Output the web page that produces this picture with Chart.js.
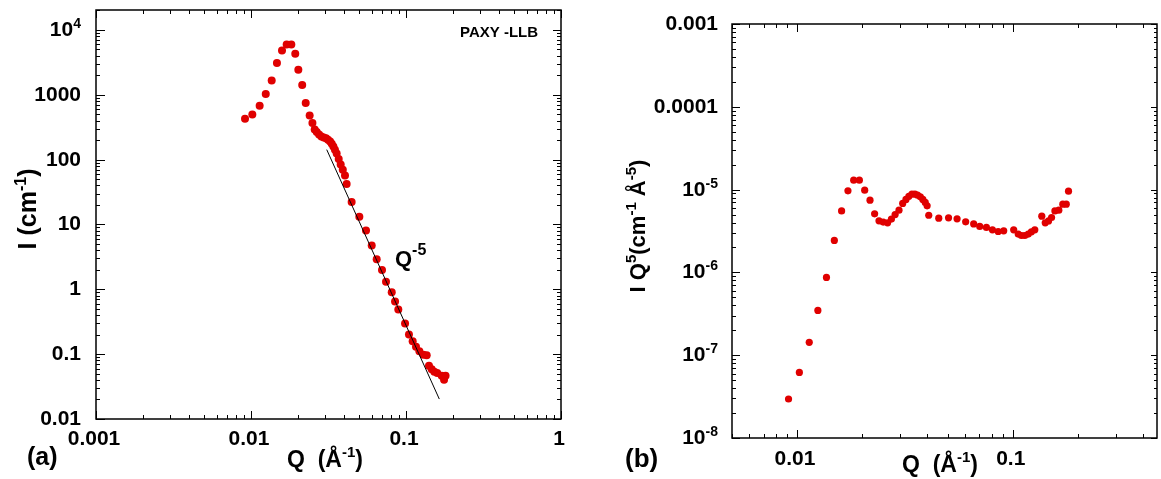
<!DOCTYPE html>
<html><head><meta charset="utf-8">
<script src="https://cdn.jsdelivr.net/npm/chart.js@4/dist/chart.umd.min.js"></script>
<style>
html,body{margin:0;padding:0;background:#fff;overflow:hidden}
#wrap{position:relative;width:1161px;height:479px}
canvas{position:absolute;top:0}
#ca{left:0}
#cb{left:580px}
</style></head><body>
<div id="wrap"><canvas id="ca" width="580" height="479"></canvas><canvas id="cb" width="581" height="479"></canvas></div>
<script>
// ---- Panel (a): I(Q) ----
const qA = [0.00915,0.0102,0.01137,0.01245,0.0136,0.0147,0.01585,0.01699,0.0182,0.0193,0.0202,0.0214,0.02254,0.0239,0.0249,0.02576,0.02655,0.02748,0.02844,0.02945,0.0305,0.0314,0.0324,0.0332,0.034,0.0348,0.0357,0.0368,0.0379,0.0391,0.0404,0.0414,0.0446,0.05,0.0552,0.0601,0.0647,0.070,0.0743,0.0809,0.085,0.0892,0.0986,0.1045,0.1104,0.116,0.122,0.1295,0.136,0.1407,0.1465,0.1523,0.159,0.170,0.176,0.180];
const iA = [428,498,678,1026,1660,3105,4810,5940,5940,4310,2425,1410,745,481,366,292,267,245,228,220,213,203,191,176,160,142,124,102,84,70,57,42,22.3,13.1,8.1,4.75,2.9,1.98,1.31,0.9,0.647,0.488,0.297,0.201,0.158,0.13,0.111,0.0977,0.0966,0.066,0.0587,0.0535,0.051,0.0464,0.0403,0.0464];
// Q^-5 guide line end points
const fitQ = [0.0308, 0.164];
const fitI = [142.6, 0.0203];
// tick labels (a)
const aXTickValues = [0.001, 0.01, 0.1, 1];
const aXTickLabels = [['0.001'], ['0.01'], ['0.1'], ['1']];
const aYTickValues = [0.01, 0.1, 1, 10, 100, 1000, 10000];
const aYTickLabels = [['0.01'], ['0.1'], ['1'], ['10'], ['100'], ['1000'], ['10', '4']];

// ---- Panel (b): I*Q^5 ----
const qB = [0.00914,0.01026,0.0114,0.0125,0.0137,0.0149,0.0161,0.01723,0.01832,0.01946,0.0206,0.0218,0.0229,0.024,0.0251,0.0263,0.0274,0.0285,0.0297,0.0309,0.032,0.033,0.0341,0.0352,0.0362,0.0373,0.0383,0.0393,0.0401,0.0408,0.0454,0.0504,0.0552,0.0605,0.0659,0.0703,0.0755,0.0805,0.0856,0.0908,0.101,0.106,0.1097,0.1137,0.118,0.122,0.1265,0.1363,0.1414,0.1465,0.1513,0.1568,0.1635,0.1706,0.177,0.1813];
const iq5B = [2.96e-8,6.2e-8,1.43e-7,3.47e-7,8.7e-7,2.43e-6,5.53e-6,9.66e-6,1.3e-5,1.3e-5,9.84e-6,7.45e-6,5.1e-6,4.2e-6,4.05e-6,3.97e-6,4.4e-6,5.0e-6,5.65e-6,6.8e-6,7.6e-6,8.3e-6,8.8e-6,8.8e-6,8.57e-6,8.17e-6,7.6e-6,7.0e-6,6.37e-6,4.9e-6,4.52e-6,4.56e-6,4.44e-6,4.08e-6,3.85e-6,3.59e-6,3.49e-6,3.27e-6,3.12e-6,3.18e-6,3.27e-6,2.9e-6,2.79e-6,2.79e-6,2.9e-6,3.09e-6,3.27e-6,4.78e-6,3.97e-6,4.19e-6,4.6e-6,5.53e-6,5.65e-6,6.67e-6,6.67e-6,9.57e-6];
const bXTickValues = [0.01, 0.1];
const bXTickLabels = [['0.01'], ['0.1']];
const bYTickValues = [0.001, 0.0001, 1e-5, 1e-6, 1e-7, 1e-8];
const bYTickLabels = [['0.001'], ['0.0001'], ['10', '-5'], ['10', '-6'], ['10', '-7'], ['10', '-8']];

const RED = '#e00000';
const FONT = '"Liberation Sans", Arial, Helvetica, sans-serif';

// rich text: segs = [[text, size, rise], ...]
function richWidth(ctx, segs) {
  let w = 0;
  for (const s of segs) { ctx.font = 'bold ' + s[1] + 'px ' + FONT; w += ctx.measureText(s[0]).width; }
  return w;
}
function drawRich(ctx, x, y, segs, align) {
  const w = richWidth(ctx, segs);
  let cx = align === 'center' ? x - w / 2 : (align === 'right' ? x - w : x);
  ctx.textAlign = 'left'; ctx.textBaseline = 'alphabetic'; ctx.fillStyle = '#000';
  for (const s of segs) {
    ctx.font = 'bold ' + s[1] + 'px ' + FONT;
    ctx.fillText(s[0], cx, y - (s[2] || 0));
    cx += ctx.measureText(s[0]).width;
  }
}
function labelSegs(lbl, size, supSize, rise) {
  const segs = [[lbl[0], size, 0]];
  if (lbl.length > 1) segs.push([lbl[1], supSize, rise]);
  return segs;
}
function logTicks(min, max) {
  const major = [], minor = [];
  const lo = Math.floor(Math.log10(min)), hi = Math.ceil(Math.log10(max));
  for (let e = lo; e <= hi; e++) {
    for (let m = 1; m <= 9; m++) {
      const v = m * Math.pow(10, e);
      if (v < min * 0.999 || v > max * 1.001) continue;
      (m === 1 ? major : minor).push(v);
    }
  }
  return { major, minor };
}

const framePlugin = {
  id: 'frame',
  afterDatasetsDraw(chart, args, o) {
    const ctx = chart.ctx, a = chart.chartArea, xs = chart.scales.x, ys = chart.scales.y;
    ctx.save();
    ctx.strokeStyle = '#000'; ctx.lineWidth = 1;
    const xt = logTicks(xs.min, xs.max), yt = logTicks(ys.min, ys.max);
    ctx.beginPath();
    const xTick = (v, len) => {
      const p = Math.round(xs.getPixelForValue(v)) + 0.5;
      ctx.moveTo(p, a.bottom); ctx.lineTo(p, a.bottom - len);
      ctx.moveTo(p, a.top); ctx.lineTo(p, a.top + len);
    };
    const yTick = (v, lenL, lenR) => {
      const p = Math.round(ys.getPixelForValue(v)) + 0.5;
      ctx.moveTo(a.left, p); ctx.lineTo(a.left + lenL, p);
      ctx.moveTo(a.right, p); ctx.lineTo(a.right - lenR, p);
    };
    xt.major.forEach(v => xTick(v, o.xMajor));
    xt.minor.forEach(v => xTick(v, o.xMinor));
    yt.major.forEach(v => yTick(v, o.yMajor, o.yMajorR));
    yt.minor.forEach(v => yTick(v, o.yMinor, o.yMinorR));
    ctx.stroke();
    ctx.lineWidth = 1.5;
    ctx.strokeRect(a.left, a.top, a.right - a.left, a.bottom - a.top);

    // tick labels
    o.xVals.forEach((v, i) => {
      const p = xs.getPixelForValue(v);
      drawRich(ctx, p + o.xLabDx, a.bottom + o.xLabDy, labelSegs(o.xLabs[i], o.tickFont, 14, 8), 'center');
    });
    o.yVals.forEach((v, i) => {
      const p = ys.getPixelForValue(v);
      drawRich(ctx, a.left - o.yLabGap, p + 6, labelSegs(o.yLabs[i], o.tickFont, 14, 8), 'right');
    });
    // free texts
    for (const t of o.texts) {
      if (t.rot) {
        ctx.save(); ctx.translate(t.x, t.y); ctx.rotate(-Math.PI / 2);
        drawRich(ctx, 0, 0, t.segs, t.align); ctx.restore();
      } else {
        drawRich(ctx, t.x, t.y, t.segs, t.align);
      }
    }
    ctx.restore();
  }
};

function makeOptions(xr, yr, padding, frame) {
  return {
    responsive: false, animation: false, devicePixelRatio: 1,
    layout: { padding },
    plugins: { legend: { display: false }, tooltip: { enabled: false }, frame },
    scales: {
      x: { type: 'logarithmic', min: xr[0], max: xr[1], display: false },
      y: { type: 'logarithmic', min: yr[0], max: yr[1], display: false }
    }
  };
}

new Chart(document.getElementById('ca'), {
  type: 'scatter',
  data: {
    datasets: [
      { data: fitQ.map((q, i) => ({ x: q, y: fitI[i] })), showLine: true, borderColor: '#000', borderWidth: 1, pointRadius: 0, backgroundColor: '#000' },
      { data: qA.map((q, i) => ({ x: q, y: iA[i] })), pointRadius: 4, pointBackgroundColor: RED, pointBorderWidth: 0, backgroundColor: RED, borderColor: RED }
    ]
  },
  options: makeOptions([0.001, 1], [0.01, 20300], { left: 96, top: 10, right: 19, bottom: 60 }, {
    xMajor: 8, xMinor: 4, yMajor: 9, yMinor: 4, yMajorR: 8, yMinorR: 4,
    tickFont: 21, xVals: aXTickValues, xLabs: aXTickLabels, xLabDx: -2, xLabDy: 26,
    yVals: aYTickValues, yLabs: aYTickLabels, yLabGap: 15,
    texts: [
      { rot: true, x: 36, y: 209, align: 'center', segs: [['I (cm', 25, 0], ['-1', 16, 10], [')', 25, 0]] },
      { x: 287, y: 467, align: 'left', segs: [['Q  (Å', 23, 0], ['-1', 15, 10], [')', 23, 0]] },
      { x: 27, y: 465, align: 'left', segs: [['(a)', 25, 0]] },
      { x: 460, y: 37, align: 'left', segs: [['PAXY -LLB', 15, 0]] },
      { x: 395, y: 266, align: 'left', segs: [['Q', 22, 0], ['-5', 16, 11]] }
    ]
  })
  ,
  plugins: [framePlugin]
});

new Chart(document.getElementById('cb'), {
  type: 'scatter',
  data: {
    datasets: [
      { data: qB.map((q, i) => ({ x: q, y: iq5B[i] })), pointRadius: 3.6, pointBackgroundColor: RED, pointBorderWidth: 0, backgroundColor: RED, borderColor: RED }
    ]
  },
  options: makeOptions([0.005, 0.466], [1e-8, 1e-3], { left: 152, top: 24, right: 4, bottom: 41 }, {
    xMajor: 8, xMinor: 4, yMajor: 8, yMinor: 4, yMajorR: 6, yMinorR: 3,
    tickFont: 21, xVals: bXTickValues, xLabs: bXTickLabels, xLabDx: -2, xLabDy: 27,
    yVals: bYTickValues, yLabs: bYTickLabels, yLabGap: 14,
    texts: [
      { rot: true, x: 65, y: 226, align: 'center', segs: [['I Q', 22, 0], ['5', 15, 9], ['(cm', 22, 0], ['-1', 15, 9], [' Å', 22, 0], ['-5', 15, 9], [')', 22, 0]] },
      { x: 322, y: 472, align: 'left', segs: [['Q  (Å', 23, 0], ['-1', 15, 10], [')', 23, 0]] },
      { x: 45, y: 467, align: 'left', segs: [['(b)', 26, 0]] }
    ]
  }),
  plugins: [framePlugin]
});
</script>
</body></html>
